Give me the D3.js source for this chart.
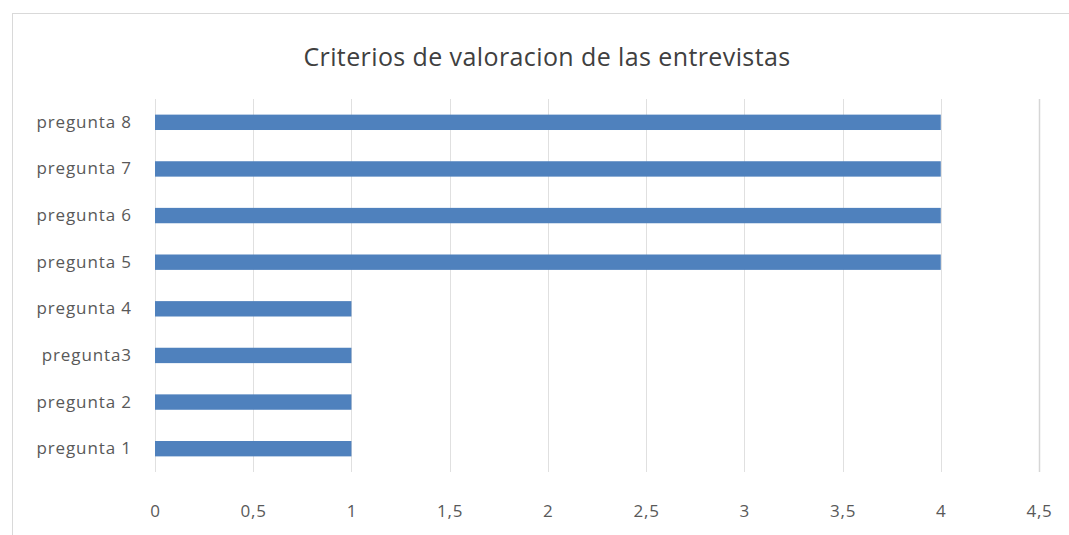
<!DOCTYPE html>
<html>
<head>
<meta charset="utf-8">
<script src="https://cdn.jsdelivr.net/npm/d3@7"></script>
<style>
  body { margin: 0; background: #fff; }
  text { font-family: "Open Sans", "Liberation Sans", sans-serif; }
</style>
</head>
<body>
<div id="chart"></div>
<script>
	// data
	var categories = ["pregunta 1", "pregunta 2", "pregunta3", "pregunta 4", "pregunta 5", "pregunta 6", "pregunta 7", "pregunta 8"];
	var values = [1, 1, 1, 1, 4, 4, 4, 4];
	var ticks = [0, 0.5, 1, 1.5, 2, 2.5, 3, 3.5, 4, 4.5];
	var title = "Criterios de valoracion de las entrevistas";

	var width = 1069, height = 535;
	var margin = { left: 155, right: 30, top: 99, bottom: 63 };

	var svg = d3.select("#chart")
		.append("svg")
			.attr("width", width)
			.attr("height", height);

	// chart border
	svg.append("rect")
		.attr("x", 12.5)
		.attr("y", 13.5)
		.attr("width", width)
		.attr("height", height)
		.attr("fill", "none")
		.attr("stroke", "#d9d9d9")
		.attr("stroke-width", 1);

	// title
	svg.append("text")
		.attr("x", 547)
		.attr("y", 66)
		.attr("text-anchor", "middle")
		.attr("font-size", "25px")
		.attr("letter-spacing", "0.4px")
		.attr("fill", "#404040")
		.text(title);

	var g = svg.append("g")
		.attr("transform", "translate(" + margin.left + "," + margin.top + ")");

	var plotW = 1039 - margin.left,
		plotH = 472 - margin.top;

	var x = d3.scaleLinear()
		.domain([0, 4.5])
		.range([0, plotW]);

	var y = d3.scaleBand()
		.domain(categories.slice().reverse())
		.range([0, plotH])
		.paddingInner(0.67)
		.paddingOuter(0.335);

	// gridlines
	g.selectAll(".grid")
		.data(ticks)
		.enter().append("line")
			.attr("class", "grid")
			.attr("x1", function(d) { return Math.round(x(d)) + 0.5; })
			.attr("x2", function(d) { return Math.round(x(d)) + 0.5; })
			.attr("y1", 0)
			.attr("y2", plotH)
			.attr("stroke", function(d) { return d == 4.5 ? "#d6d6d6" : "#e0e0e0"; })
			.attr("stroke-width", function(d) { return d == 4.5 ? 1.5 : 1; });

	// bars
	g.selectAll(".bar")
		.data(categories)
		.enter().append("rect")
			.attr("class", "bar")
			.attr("x", x(0))
			.attr("y", function(d) { return y(d); })
			.attr("width", function(d, i) { return x(values[i]) - x(0); })
			.attr("height", y.bandwidth())
			.attr("fill", "#4f81bd");

	// x axis
	var xAxis = d3.axisBottom(x)
		.tickValues(ticks)
		.tickSize(0)
		.tickPadding(0)
		.tickFormat(function(d) { return String(d).replace(".", ","); });
	var xAx = g.append("g")
		.attr("transform", "translate(0," + (plotH + 33) + ")")
		.call(xAxis);
	xAx.select(".domain").remove();
	xAx.selectAll("text")
		.attr("font-size", "17px")
		.attr("letter-spacing", "0.8px")
		.attr("fill", "#595959")
		.attr("font-family", "Open Sans, sans-serif");

	// y axis
	var yAxis = d3.axisLeft(y)
		.tickSize(0)
		.tickPadding(23);
	var yAx = g.append("g").call(yAxis);
	yAx.select(".domain").remove();
	yAx.selectAll("text")
		.attr("font-size", "17px")
		.attr("letter-spacing", "0.9px")
		.attr("fill", "#595959")
		.attr("font-family", "Open Sans, sans-serif");
</script>
</body>
</html>
